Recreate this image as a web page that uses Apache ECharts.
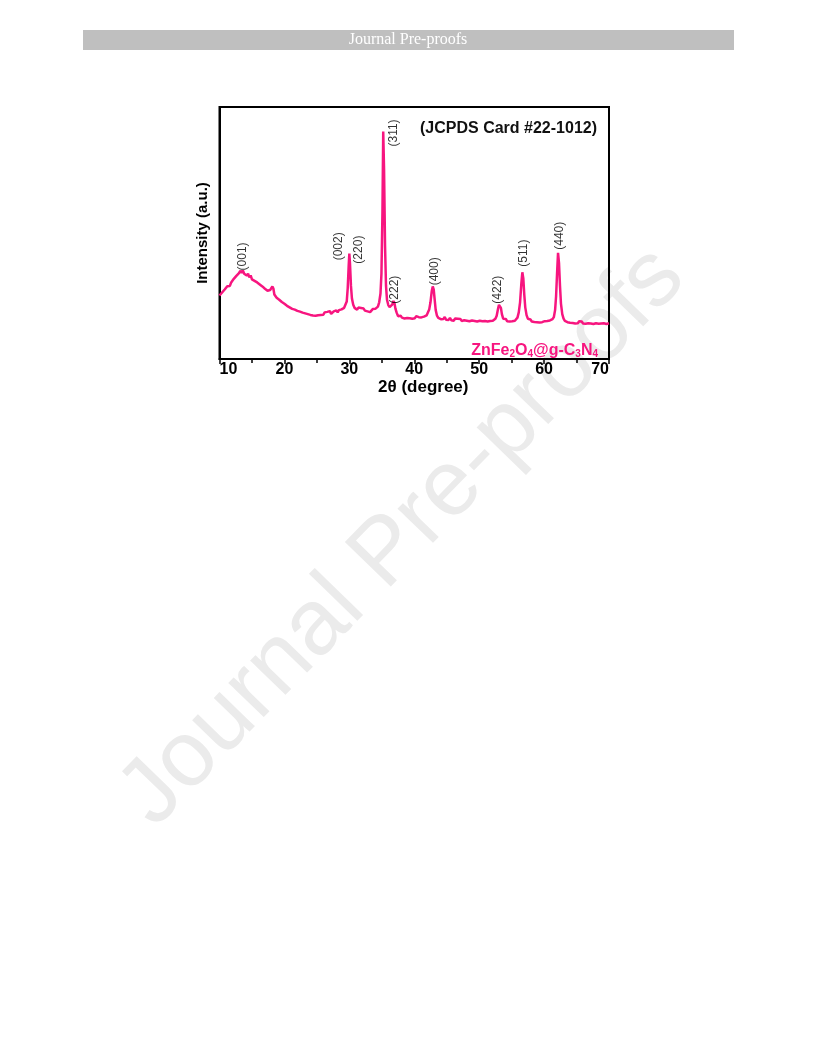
<!DOCTYPE html>
<html>
<head>
<meta charset="utf-8">
<script src="https://cdn.jsdelivr.net/npm/echarts@6/dist/echarts.min.js"></script>
<style>
html,body{margin:0;padding:0;background:#fff;}
#chart{width:816px;height:1056px;}
</style>
</head>
<body>
<div id="chart"></div>
<script>
// XRD pattern: [2theta (deg), intensity (a.u.)]
const xrdPattern = [
[10.0,25.2],[10.2,24.6],[10.4,26.4],[10.6,26.9],[10.8,27.6],[11.0,27.2],[11.2,28.9],[11.4,29.2],[11.6,29.0],[11.8,30.4],
[12.0,30.6],[12.2,31.8],[12.4,31.4],[12.6,33.0],[12.8,33.5],[13.0,34.1],[13.2,35.0],[13.4,34.2],[13.6,35.1],[13.8,33.8],
[14.0,34.3],[14.2,33.1],[14.4,33.9],[14.6,32.4],[14.8,33.2],[15.0,31.6],[15.2,32.3],[15.4,31.0],[15.6,31.7],[15.8,30.4],
[16.0,30.9],[16.2,29.6],[16.4,30.2],[16.6,28.8],[16.8,29.3],[17.0,27.9],[17.2,28.3],[17.4,27.1],[17.6,26.6],[17.8,27.4],
[18.0,26.7],[18.15,28.8],[18.3,28.0],[18.45,25.6],[18.6,25.9],[18.8,24.3],[19.0,24.9],[19.2,23.5],[19.4,23.9],[19.6,22.6],
[19.8,23.1],[20.0,21.9],[20.2,22.3],[20.4,21.1],[20.6,21.5],[20.8,20.5],[21.0,20.9],[21.2,19.9],[21.4,20.4],[21.6,19.6],
[21.8,20.0],[22.0,19.1],[22.2,19.6],[22.4,18.8],[22.6,19.2],[22.8,18.4],[23.0,18.9],[23.2,18.1],[23.4,18.6],[23.6,17.8],
[23.8,18.3],[24.0,17.5],[24.2,18.0],[24.4,17.3],[24.6,17.8],[24.8,17.2],[25.0,17.7],[25.2,17.4],[25.4,18.1],[25.6,17.5],
[25.8,18.2],[26.0,17.6],[26.2,18.5],[26.4,17.9],[26.6,18.7],[26.8,18.0],[27.0,19.0],[27.2,17.9],[27.4,18.6],[27.6,18.9],
[27.8,18.2],[28.0,19.3],[28.2,18.5],[28.4,19.4],[28.6,18.8],[28.8,19.7],[29.0,19.3],[29.2,20.3],[29.4,20.9],[29.6,22.8],
[29.75,28.0],[29.9,37.0],[30.0,41.8],[30.1,38.0],[30.25,29.0],[30.4,24.0],[30.6,21.5],[30.8,20.3],[31.0,20.8],[31.2,19.6],
[31.4,20.4],[31.6,21.0],[31.8,20.2],[32.0,19.5],[32.2,20.0],[32.4,19.2],[32.6,19.7],[32.8,18.9],[33.0,19.4],[33.2,18.6],
[33.4,19.2],[33.6,19.8],[33.8,19.1],[34.0,19.9],[34.2,19.6],[34.4,20.8],[34.6,22.5],[34.8,26.0],[34.95,34.0],[35.1,58.0],
[35.22,90.3],[35.35,75.0],[35.5,45.0],[35.65,29.0],[35.8,23.5],[36.0,21.4],[36.2,20.6],[36.4,20.9],[36.6,21.6],[36.8,23.0],
[36.95,22.2],[37.1,20.0],[37.3,18.3],[37.5,17.0],[37.7,16.6],[37.9,17.2],[38.1,16.4],[38.3,16.9],[38.5,16.1],[38.7,16.8],
[38.9,16.3],[39.1,17.0],[39.3,16.2],[39.5,16.7],[39.7,16.0],[39.9,16.6],[40.1,16.2],[40.3,17.0],[40.5,16.3],[40.7,16.6],
[40.9,15.9],[41.1,16.5],[41.3,16.1],[41.5,16.8],[41.7,16.6],[41.9,17.3],[42.1,17.8],[42.3,19.6],[42.5,22.5],[42.7,27.0],
[42.85,28.8],[43.0,27.5],[43.15,23.5],[43.3,19.5],[43.5,17.2],[43.7,16.3],[43.9,16.8],[44.1,15.8],[44.3,16.5],[44.5,15.9],
[44.7,16.7],[44.9,15.6],[45.1,16.2],[45.3,15.5],[45.5,16.3],[45.7,15.4],[45.9,16.0],[46.1,15.2],[46.3,16.1],[46.5,15.5],
[46.7,16.0],[46.9,15.3],[47.1,15.9],[47.3,15.1],[47.5,15.8],[47.7,15.4],[47.9,16.1],[48.1,15.2],[48.3,15.7],[48.5,15.0],
[48.7,15.6],[48.9,15.3],[49.1,15.9],[49.3,15.1],[49.5,15.6],[49.7,14.9],[49.9,15.5],[50.1,15.2],[50.3,15.8],[50.5,15.0],
[50.7,15.4],[50.9,15.1],[51.1,15.7],[51.3,14.9],[51.5,15.5],[51.7,15.1],[51.9,15.6],[52.1,15.2],[52.3,15.9],[52.5,16.0],
[52.7,17.2],[52.9,19.8],[53.05,21.5],[53.2,22.2],[53.35,20.3],[53.5,17.8],[53.7,16.0],[53.9,15.4],[54.1,15.9],[54.3,15.0],
[54.5,15.5],[54.7,14.9],[54.9,15.6],[55.1,15.0],[55.3,15.5],[55.5,15.2],[55.7,15.9],[55.9,16.4],[56.1,18.5],[56.3,22.5],
[56.5,30.0],[56.65,34.4],[56.8,32.0],[56.95,25.5],[57.1,20.5],[57.3,17.4],[57.5,16.0],[57.7,15.3],[57.9,15.7],[58.1,14.9],
[58.3,15.4],[58.5,14.7],[58.7,15.2],[58.9,14.6],[59.1,15.1],[59.3,14.5],[59.5,15.2],[59.7,14.6],[59.9,14.2],[60.1,15.0],
[60.3,14.4],[60.5,15.1],[60.7,14.7],[60.9,15.3],[61.1,15.0],[61.3,15.8],[61.5,16.6],[61.7,19.5],[61.85,25.0],[62.0,34.0],
[62.15,42.1],[62.3,38.0],[62.45,29.0],[62.6,22.0],[62.8,17.8],[63.0,16.0],[63.2,15.1],[63.4,15.4],[63.6,14.6],[63.8,15.1],
[64.0,14.4],[64.2,14.9],[64.4,14.3],[64.6,14.8],[64.8,14.1],[65.0,14.7],[65.2,14.2],[65.4,15.0],[65.6,14.4],[65.8,14.9],
[66.0,14.1],[66.2,14.6],[66.4,14.0],[66.6,14.7],[66.8,14.2],[67.0,14.8],[67.2,14.1],[67.4,14.5],[67.6,13.9],[67.8,14.6],
[68.0,14.2],[68.2,14.8],[68.4,14.0],[68.6,14.5],[68.8,14.1],[69.0,14.7],[69.2,14.2],[69.4,14.6],[69.6,13.9],[69.8,14.4],
[70.0,14.2]
];

// Miller index annotations
const peakLabels = ['(001)','(002)','(220)','(311)','(222)','(400)','(422)','(511)','(440)'];
const peakLabelX = [13.6, 28.3, 31.4, 36.9, 37.0, 43.2, 52.9, 56.8, 62.4];
const peakLabelY = [40.7, 44.7, 43.4, 89.7, 27.5, 34.8, 27.5, 42.0, 48.9];

const xTicks = [10, 20, 30, 40, 50, 60, 70];

const chart = echarts.init(document.getElementById('chart'), null, {renderer: 'canvas'});
const labelData = peakLabels.map((t, i) => ({value: [peakLabelX[i], peakLabelY[i]], name: t}));
const pink = '#f7157f';

chart.setOption({
  backgroundColor: '#ffffff',
  animation: false,
  title: [
    {
      text: '(JCPDS Card #22-1012)',
      right: 214,
      top: 116,
      textStyle: {fontFamily: 'Liberation Sans', fontWeight: 'bold', fontSize: 16, color: '#111'}
    },
    {
      text: '{m|ZnFe}{s|2}{m|O}{s|4}{m|@g-C}{s|3}{m|N}{s|4}',
      right: 213,
      top: 334,
      textStyle: {
        rich: {
          m: {fontFamily: 'Liberation Sans', fontWeight: 'bold', fontSize: 16, color: pink, verticalAlign: 'bottom', lineHeight: 20},
          s: {fontFamily: 'Liberation Sans', fontWeight: 'bold', fontSize: 10, color: pink, verticalAlign: 'bottom', lineHeight: 15}
        }
      }
    }
  ],
  graphic: [
    {
      type: 'rect', z: -10, silent: true,
      shape: {x: 83, y: 30, width: 651, height: 20},
      style: {fill: '#bfbfbf'}
    },
    {
      type: 'text', z: -9, silent: true,
      x: 408, y: 40,
      style: {text: 'Journal Pre-proofs', fill: '#ffffff', font: '16px "Liberation Serif"', textAlign: 'center', textVerticalAlign: 'middle'}
    },
    {
      type: 'text', z: -20, silent: true,
      x: 403, y: 537, rotation: 0.80,
      style: {text: 'Journal Pre-proofs', fill: '#ebebeb', font: '93px "Liberation Sans"', textAlign: 'center', textVerticalAlign: 'middle'}
    }
  ],
  grid: {
    left: 219.5, right: 207, top: 107, bottom: 697,
    show: true, borderColor: '#000', borderWidth: 2, backgroundColor: 'transparent'
  },
  xAxis: {
    type: 'value', min: 10, max: 70, interval: 10,
    name: '2θ (degree)', nameLocation: 'middle', nameGap: 19,
    nameTextStyle: {fontFamily: 'Liberation Sans', fontWeight: 'bold', fontSize: 17, color: '#000', padding: [0, 0, 0, 18]},
    axisLine: {show: true, lineStyle: {color: '#000', width: 2}},
    axisTick: {show: true, inside: false, length: 5, lineStyle: {color: '#000', width: 1.5}},
    minorTick: {show: true, splitNumber: 2, length: 4, lineStyle: {color: '#000', width: 1.5}},
    axisLabel: {
      margin: 3, fontFamily: 'Liberation Sans', fontWeight: 'bold', fontSize: 16, color: '#000',
      alignMinLabel: 'left', alignMaxLabel: 'right',
      formatter: v => (xTicks.indexOf(v) >= 0 ? String(v) : '')
    },
    splitLine: {show: false}
  },
  yAxis: {
    type: 'value', min: 0, max: 100,
    name: 'Intensity (a.u.)', nameLocation: 'middle', nameGap: 9,
    nameTextStyle: {fontFamily: 'Liberation Sans', fontWeight: 'bold', fontSize: 15, color: '#000'},
    axisLine: {show: true, lineStyle: {color: '#000', width: 2}},
    axisTick: {show: false},
    axisLabel: {show: false},
    splitLine: {show: false}
  },
  series: [
    {
      type: 'line',
      data: xrdPattern,
      showSymbol: false,
      symbol: 'none',
      sampling: null,
      lineStyle: {color: pink, width: 2.5},
      z: 3
    },
    {
      type: 'scatter',
      data: labelData,
      symbolSize: 0,
      silent: true,
      label: {
        show: true, position: 'inside', rotate: 90,
        formatter: p => p.name,
        fontFamily: 'Liberation Sans', fontSize: 12, color: '#000'
      },
      z: 4
    }
  ]
});
</script>
</body>
</html>
